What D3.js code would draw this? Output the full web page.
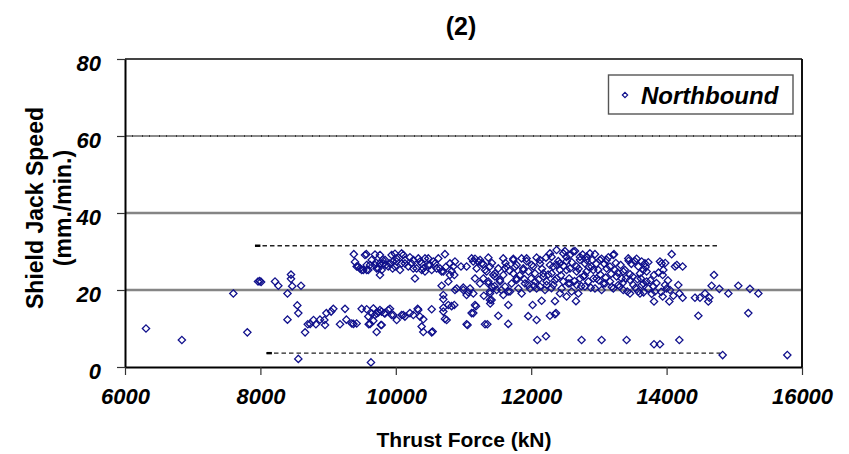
<!DOCTYPE html>
<html>
<head>
<meta charset="utf-8">
<script src="https://cdn.jsdelivr.net/npm/d3@7"></script>
<style>
  html, body { margin: 0; padding: 0; background: #fff; }
  svg { display: block; font-family: Arial, "Liberation Sans", sans-serif; }
</style>
</head>
<body>
<svg id="chart" width="849" height="454"></svg>
<script>
// Axis ticks
const xTicks = [6000, 8000, 10000, 12000, 14000, 16000];
const yTicks = [0, 20, 40, 60, 80];

// Envelope lines drawn across the measured band (thrust kN, speed mm./min.)
const upperBound = [[7920, 31.5], [14775, 31.5]];
const lowerBound = [[8090, 3.6], [14795, 3.6]];

// Northbound drive: [thrust force (kN), shield jack speed (mm./min.)]
const northbound = [
  [6310,10.0],[6840,7.0],[7600,19.1],[7807,9.0],[7965,22.2],[7990,22.3],[8010,22.1],[8216,22.2],
  [8265,21.1],[8400,19.1],[8400,12.3],[8452,24.0],[8452,22.9],[8470,21.0],[8545,16.0],[8560,14.0],
  [8560,2.1],[8600,21.1],[8660,9.0],[8700,11.1],[8735,11.2],[8785,12.2],[8820,11.1],[8880,12.3],
  [8945,12.2],[8955,10.9],[8975,14.0],[9045,14.4],[9077,15.1],[9176,11.1],[9250,15.1],[9270,12.3],
  [9350,11.3],[9375,11.2],[9422,11.3],[9496,15.1],[9570,15.0],[9594,13.1],[9600,11.1],[9620,11.2],
  [9633,1.2],[9645,13.9],[9668,15.2],[9668,12.0],[9693,13.5],[9717,13.9],[9717,9.1],[9742,14.2],
  [9766,14.8],[9781,10.9],[9791,10.9],[9790,14.4],[9830,14.0],[9840,13.9],[9889,14.8],[9914,15.1],
  [9938,13.5],[9963,13.5],[10013,12.2],[10086,13.5],[10111,13.5],[10135,13.1],[10209,14.0],[10259,13.5],
  [10323,15.1],[10332,14.8],[10357,13.1],[10382,10.5],[10406,12.4],[10406,9.1],[10530,15.0],[10530,9.0],
  [10544,9.2],
  [9380,29.3],[9397,27.3],[9422,26.1],[9446,26.1],[9471,25.6],[9496,25.2],[9520,25.2],[9545,29.1],
  [9565,29.3],[9570,25.2],[9570,26.5],[9594,25.2],[9619,26.5],[9643,27.8],[9693,29.2],[9693,26.5],
  [9707,27.1],[9717,25.6],[9742,25.6],[9766,29.1],[9766,23.9],[9766,26.9],[9791,25.2],[9806,27.8],
  [9815,26.9],[9840,27.8],[9855,26.5],[9889,26.1],[9914,26.9],[9938,29.1],[9953,25.6],[9963,27.4],
  [9988,29.4],[9987,26.1],[10013,28.2],[10012,27.4],[10062,25.2],[10086,29.5],[10086,26.9],[10111,29.1],
  [10135,27.8],[10135,26.9],[10185,26.1],[10209,28.5],[10234,26.9],[10258,25.6],[10259,27.8],[10283,23.0],
  [10308,25.6],[10333,28.2],[10357,27.4],[10382,25.2],[10382,26.9],[10406,25.6],[10431,28.2],[10431,24.8],
  [10480,28.2],[10480,26.5],[10505,26.5],[10530,25.2],[10554,27.4],[10579,26.9],[10603,25.6],[10628,28.2],
  [10652,25.6],[10677,24.8],[10702,24.8],[10726,29.3],[10740,26.0],
  [10677,21.1],[10702,18.7],[10702,17.6],[10702,15.4],[10702,14.4],[10726,12.5],[10751,12.2],[10776,22.2],
  [10776,16.1],[10800,26.9],[10800,23.9],[10825,24.9],[10824,15.8],[10849,26.1],[10864,23.9],[10864,16.1],
  [10874,27.4],[10874,20.0],[10899,20.4],[10963,26.1],[10997,20.6],[10997,20.0],[11046,26.1],[11046,18.7],
  [11046,11.1],[11060,10.9],[11071,19.4],[11096,20.4],[11120,28.2],[11120,14.0],[11144,27.4],[11145,19.1],
  [11145,14.0],[11170,28.1],[11170,23.0],[11170,16.1],[11184,15.8],[11194,25.6],[11218,27.4],[11244,27.8],
  [11243,21.7],[11268,26.9],[11293,26.7],[11293,23.0],[11318,25.2],[11318,11.1],[11341,24.8],[11352,11.1],
  [11366,21.7],[11367,28.4],[11367,22.2],[11390,19.6],[11391,26.1],[11391,19.1],[11391,17.4],[11395,16.5],
  [11415,17.4],[11416,20.9],[11440,23.9],[11464,23.5],[11465,24.3],[11490,20.0],[11514,25.6],[11514,13.3],
  [11538,22.6],[11539,22.2],[11587,28.2],[11588,23.9],[11588,18.7],[11612,25.6],[11613,20.9],[11637,26.1],
  [11661,19.6],[11662,16.1],[11661,11.2],[11687,19.6],[11711,21.7],[11735,27.8],[11736,28.1],[11736,24.3],
  [11784,23.0],[11785,26.5],[11785,22.6],[11810,20.4],[11858,28.2],[11859,19.1],[11883,25.6],[11884,25.2],
  [11908,21.7],[11932,28.2],[11933,27.5],[11956,21.3],[11956,13.2],[11982,20.4],[12007,26.5],[12030,26.1],
  [12021,16.1],[12056,24.3],[12056,22.2],[12080,28.4],[12080,20.4],[12080,12.2],[12090,7.0],[12129,27.8],
  [12130,26.9],[12130,20.9],[12154,17.2],[12178,23.5],[12179,24.3],[12204,20.0],[12218,28.4],[12218,8.0],
  [12228,22.2],[12228,21.3],[12277,29.5],[12277,26.5],[12277,13.3],[12301,28.6],[12302,24.3],[12326,26.1],
  [12327,21.3],[12351,17.1],[12351,13.7],[12366,14.0],[12375,30.4],[12376,26.5],[12376,23.0],[12400,27.5],
  [12424,26.9],[12425,25.2],[12425,19.1],[12450,20.4],[12474,29.5],[12474,22.2],[12499,30.1],[12523,27.5],
  [12523,25.2],[12523,18.3],[12547,21.7],[12573,29.1],[12573,25.6],[12573,21.7],[12597,19.6],[12621,30.0],
  [12647,30.1],[12661,17.1],[12670,26.1],[12671,24.8],[12671,21.3],[12696,19.1],[12720,28.6],[12720,27.8],
  [12720,23.0],[12744,7.0],[12769,23.5],[12794,26.9],[12794,20.9],[12818,27.8],[12819,28.7],[12819,24.8],
  [12844,22.2],[12867,29.5],[12893,26.1],[12917,25.2],[12918,23.0],[12942,29.3],[12942,20.4],[12966,23.0],
  [12991,25.2],[13015,27.8],[13040,28.1],[13040,20.0],[13040,7.0],[13064,21.7],[13090,21.7],[13114,27.8],
  [13114,25.6],[13163,26.1],[13164,22.2],[13212,29.1],[13213,20.4],[13223,29.3],[13237,25.2],[13261,23.5],
  [13287,21.3],[13310,20.9],[13336,23.0],[13360,24.8],[13360,20.0],[13384,25.2],[13409,7.0],[13434,28.2],
  [13440,27.6],[13459,24.1],[13459,22.6],[13459,19.1],[13508,21.3],[13557,28.1],[13582,26.1],[13582,19.6],
  [13607,24.3],[13607,19.1],[13632,27.4],[13632,21.3],[13656,25.2],[13656,21.7],[13680,26.9],[13705,24.8],
  [13705,22.2],[13730,27.2],[13730,20.4],[13804,20.9],[13814,23.9],[13814,17.0],[13814,5.9],[13828,19.6],
  [13902,27.4],[13902,5.9],[13927,26.9],[13942,23.9],[13942,18.3],[13952,25.2],[13976,21.3],[14001,20.4],
  [14040,17.0],[14050,20.0],[14075,29.3],[14124,26.1],[14173,21.3],[14188,19.1],[14188,7.0],[14237,26.1],
  [14237,18.0],[14419,18.0],[14469,13.3],[14493,18.0],[14567,19.1],[14616,17.0],[14631,18.0],[14665,21.1],
  [14700,23.9],[14779,20.3],[14828,3.1],[14912,19.1],[15059,21.1],[15207,14.0],[15231,20.3],[15355,19.1],
  [15783,3.1],
  [11620,27.0],[11680,25.0],[11760,26.0],[11830,23.8],[11900,22.8],[11960,24.8],[12000,23.0],[12040,21.0],
  [12110,22.7],[12160,25.5],[12250,24.0],[12300,20.5],[12350,22.5],[12440,23.8],[12480,26.2],[12520,28.6],
  [12560,23.0],[12600,27.2],[12640,22.3],[12700,25.5],[12740,21.0],[12760,29.2],[12790,23.8],[12850,26.0],
  [12880,20.6],[12900,27.8],[12960,26.8],[13000,22.5],[13020,24.0],[13080,26.8],[13100,23.2],[13140,28.5],
  [13180,24.2],[13190,20.8],[13250,27.0],[13280,24.5],[13320,26.5],[13350,21.8],[13400,23.0],[13420,19.6],
  [13480,26.8],[13500,23.5],[13530,27.5],[13540,20.5],[13570,22.8],[13620,23.0],[13660,19.4],[13690,26.0],
  [13760,22.5],[13780,19.0],[13850,21.8],[13880,24.5],[13920,19.5],[13980,27.0],[14020,22.5],[14100,18.5],
  [14150,26.5],[11300,18.5],[11420,27.0],[11460,21.0],[11560,20.0]
];

const svg = d3.select("#chart");
const margin = { left: 125, right: 802, top: 59, bottom: 367 };
const fontStack = "Arial, 'Liberation Sans', sans-serif";

const x = d3.scaleLinear().domain([6000, 16000]).range([margin.left, margin.right]);
const y = d3.scaleLinear().domain([0, 80]).range([margin.bottom, margin.top]);

const markerColor = "#10108c";

// Horizontal gridlines
const grid = svg.append("g");
grid.selectAll("line.major")
  .data(yTicks.filter(v => v === 20 || v === 40))
  .join("line")
  .attr("class", "major")
  .attr("x1", x(6000)).attr("x2", x(16000))
  .attr("y1", d => y(d)).attr("y2", d => y(d))
  .attr("stroke", "#858585").attr("stroke-width", 2.6);

// the 60 line is a lighter gray with a fine dotted overlay
grid.append("line")
  .attr("x1", x(6000)).attr("x2", x(16000))
  .attr("y1", y(60)).attr("y2", y(60))
  .attr("stroke", "#8a8a8a").attr("stroke-width", 2);
grid.append("line")
  .attr("x1", x(6000)).attr("x2", x(16000))
  .attr("y1", y(60)).attr("y2", y(60))
  .attr("stroke", "#3a3a3a").attr("stroke-width", 2)
  .attr("stroke-dasharray", "1 6 1 9");

// Top frame line at 80
grid.append("line")
  .attr("x1", x(6000)).attr("x2", x(16000))
  .attr("y1", y(80)).attr("y2", y(80))
  .attr("stroke", "#444").attr("stroke-width", 2.2);

// Right frame
svg.append("line")
  .attr("x1", x(16000)).attr("x2", x(16000))
  .attr("y1", y(80)).attr("y2", y(0))
  .attr("stroke", "#111").attr("stroke-width", 2);

// Envelope dashed lines
const bandLine = d3.line().x(d => x(d[0])).y(d => y(d[1]));
[upperBound, lowerBound].forEach(seg => {
  svg.append("path")
    .attr("d", bandLine(seg))
    .attr("fill", "none")
    .attr("stroke", "#222")
    .attr("stroke-width", 1.3)
    .attr("stroke-dasharray", "4.5 3");
  // short heavier lead-in at the start of each line
  svg.append("path")
    .attr("d", bandLine([seg[0], [seg[0][0] + 80, seg[0][1]]]))
    .attr("stroke", "#000")
    .attr("stroke-width", 2.4);
});

// Scatter markers (hollow diamonds)
const diamond = d3.symbol().type(d3.symbolDiamond2).size(34);
svg.append("g")
  .selectAll("path")
  .data(northbound)
  .join("path")
  .attr("d", diamond)
  .attr("transform", d => `translate(${x(d[0])},${y(d[1])})`)
  .attr("fill", "none")
  .attr("stroke", markerColor)
  .attr("stroke-width", 1.3);

// Y axis
const yAxis = svg.append("g")
  .attr("transform", `translate(${margin.left},0)`)
  .call(d3.axisLeft(y).tickValues(yTicks).tickSize(8).tickPadding(16).tickSizeOuter(0));
yAxis.select(".domain").attr("stroke", "#000").attr("stroke-width", 2);
yAxis.selectAll(".tick line").attr("stroke", "#333").attr("stroke-width", 1.2);
yAxis.selectAll(".tick text")
  .attr("font-size", 22).attr("font-weight", "bold").attr("font-style", "italic")
  .attr("fill", "#000").attr("dy", "0.52em")
  .attr("font-family", fontStack);

// X axis
const xAxis = svg.append("g")
  .attr("transform", `translate(0,${margin.bottom})`)
  .call(d3.axisBottom(x).tickValues(xTicks).tickFormat(d3.format("d")).tickSize(8).tickPadding(13).tickSizeOuter(0));
xAxis.select(".domain").attr("stroke", "#000").attr("stroke-width", 2);
xAxis.selectAll(".tick line").attr("stroke", "#333").attr("stroke-width", 1.2);
xAxis.selectAll(".tick text")
  .attr("font-size", 22).attr("font-weight", "bold").attr("font-style", "italic")
  .attr("fill", "#000")
  .attr("font-family", fontStack);

// Titles
svg.append("text")
  .attr("x", 461).attr("y", 35)
  .attr("text-anchor", "middle")
  .attr("font-size", 25).attr("font-weight", "bold")
  .text("(2)");

svg.append("text")
  .attr("x", 464).attr("y", 447)
  .attr("text-anchor", "middle")
  .attr("font-size", 21).attr("font-weight", "bold")
  .text("Thrust Force (kN)");

const yTitle = svg.append("text")
  .attr("transform", "translate(43,208) rotate(-90)")
  .attr("text-anchor", "middle")
  .attr("font-size", 23).attr("font-weight", "bold");
yTitle.append("tspan").attr("x", 0).attr("y", 0).text("Shield Jack Speed");
yTitle.append("tspan").attr("x", 0).attr("y", 28).text("(mm./min.)");

// Legend
const legend = svg.append("g");
legend.append("rect")
  .attr("x", 608.5).attr("y", 75).attr("width", 184.5).attr("height", 39)
  .attr("fill", "#fff").attr("stroke", "#555").attr("stroke-width", 1.4);
legend.append("path")
  .attr("d", d3.symbol().type(d3.symbolDiamond2).size(18))
  .attr("transform", "translate(625,95)")
  .attr("fill", "none").attr("stroke", markerColor).attr("stroke-width", 1.2);
legend.append("text")
  .attr("x", 641).attr("y", 103.5)
  .attr("font-size", 24).attr("font-weight", "bold").attr("font-style", "italic")
  .text("Northbound");
</script>
</body>
</html>
